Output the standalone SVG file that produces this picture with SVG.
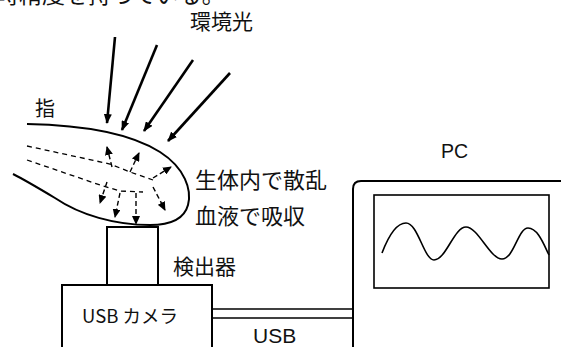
<svg xmlns="http://www.w3.org/2000/svg" width="561" height="347" viewBox="0 0 561 347">
  <style>
    .jp { font-family: "Noto Sans CJK JP", "Noto Sans", sans-serif; fill: #111; }
    .lat { font-family: "Liberation Sans", Arial, sans-serif; fill: #111; }
    .outline { fill: none; stroke: #000; stroke-width: 2; }
    .thin { fill: none; stroke: #000; stroke-width: 1.6; }
    .ray { stroke: #000; stroke-width: 2.6; fill: none; marker-end: url(#bigHead); }
    .scatter { stroke: #000; stroke-width: 1.3; fill: none; stroke-dasharray: 5 4; }
    .scatterArrow { stroke: #000; stroke-width: 1.4; fill: none; stroke-dasharray: 5 3; marker-end: url(#smallHead); }
  </style>
  <defs>
    <marker id="bigHead" markerWidth="10" markerHeight="8" refX="9" refY="4" orient="auto" markerUnits="userSpaceOnUse">
      <path d="M0,0 L10,4 L0,8 Z" fill="#000"/>
    </marker>
    <marker id="smallHead" markerWidth="9" markerHeight="8" refX="8" refY="4" orient="auto" markerUnits="userSpaceOnUse">
      <path d="M0,0 L9,4 L0,8 Z" fill="#000"/>
    </marker>
  </defs>

  <rect width="561" height="347" fill="#fff"/>

  <!-- sentence running off the top edge -->
  <text class="jp" x="-4" y="3" font-size="23">時精度を持っている。</text>

  <!-- ambient light -->
  <g id="ambient-light">
    <text class="jp" x="190" y="29" font-size="21">環境光</text>
  </g>

  <!-- finger -->
  <g id="finger">
    <text class="jp" x="35" y="116" font-size="20">指</text>
    <path class="outline" d="M27,124 C80,125 130,133 160,152 C185,168 192,190 188,205 C184,220 170,225 150,225 C115,225 80,215 55,198 C40,189 25,180 13,174"/>
  </g>

  <!-- scattering / absorption labels -->
  <g id="scatter-label">
    <text class="jp" x="195" y="188" font-size="22">生体内で散乱</text>
    <text class="jp" x="195" y="224" font-size="22">血液で吸収</text>
  </g>

  <!-- detector -->
  <g id="detector">
    <rect class="outline" x="107" y="227" width="51" height="58"/>
    <text class="jp" x="173" y="274" font-size="21">検出器</text>
  </g>

  <!-- USB camera -->
  <g id="usb-camera">
    <rect class="outline" x="62" y="285" width="150" height="70"/>
    <text class="jp" x="82" y="323" font-size="18.5">USB カメラ</text>
  </g>

  <!-- PC -->
  <g id="pc">
    <text class="lat" x="441" y="158" font-size="19.5">PC</text>
    <path class="outline" d="M353,355 L353,189 Q353,181 361,181 L565,181"/>
    <rect class="thin" x="374" y="195" width="175" height="93"/>
    <path class="thin" d="M382,253 C390,232 398,223 406,223 C418,223 424,260 434,260 C446,260 454,227 466,227 C478,227 490,259 502,259 C514,259 518,228 528,228 C538,228 544,245 549,255"/>
  </g>

  <!-- connectors -->
  <g id="connectors">
    <!-- incoming light rays -->
    <line class="ray" x1="115" y1="37" x2="107" y2="123"/>
    <line class="ray" x1="157" y1="45" x2="122" y2="130"/>
    <line class="ray" x1="193" y1="60" x2="144" y2="131"/>
    <line class="ray" x1="230" y1="73" x2="168" y2="141"/>

    <!-- light paths inside the finger -->
    <path class="scatter" d="M27,146 L110,164 L130,172 L153,180"/>
    <path class="scatter" d="M27,160 L103,186 L120,191 L143,192"/>

    <!-- scattered light -->
    <line class="scatterArrow" x1="112" y1="167" x2="107" y2="147"/>
    <line class="scatterArrow" x1="130" y1="172" x2="139" y2="153"/>
    <line class="scatterArrow" x1="153" y1="178" x2="171" y2="167"/>
    <line class="scatterArrow" x1="153" y1="187" x2="165" y2="210"/>
    <line class="scatterArrow" x1="107" y1="182" x2="100" y2="203"/>
    <line class="scatterArrow" x1="120" y1="193" x2="115" y2="217"/>
    <line class="scatterArrow" x1="136" y1="193" x2="136" y2="224"/>

    <!-- USB cable -->
    <line class="thin" x1="212" y1="309" x2="353" y2="309"/>
    <line class="thin" x1="212" y1="318" x2="353" y2="318"/>
    <text class="lat" x="253" y="343" font-size="21">USB</text>
  </g>
</svg>
